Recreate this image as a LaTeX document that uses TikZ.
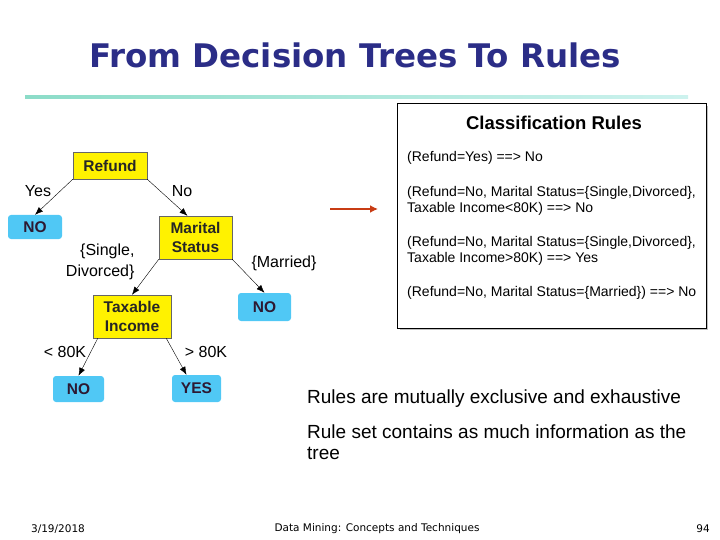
\documentclass[tikz,border=0pt]{standalone}
\usepackage{fontspec}
\setmainfont{Liberation Sans}
\newfontfamily\titlefont{DejaVu Sans}
\newfontfamily\footfont{DejaVu Sans}
\usepackage{tikz}
\usetikzlibrary{arrows.meta}
\definecolor{titleblue}{RGB}{43,45,135}
\definecolor{leafblue}{RGB}{80,200,245}
\definecolor{leaftext}{RGB}{45,25,50}
\definecolor{arrowred}{RGB}{200,60,20}
\definecolor{barleft}{RGB}{140,220,200}
\definecolor{barright}{RGB}{205,242,238}

\begin{document}
\begin{tikzpicture}[x=1pt,y=-1pt,
  attr/.style={draw=black!60,fill=yellow,inner sep=0pt,align=center,text=black!85,
    font=\fontsize{15.5}{19}\selectfont\bfseries},
  leaf/.style={fill=leafblue,rounded corners=3pt,inner sep=0pt,text=leaftext,
    font=\fontsize{15.5}{19}\selectfont\bfseries},
  lbl/.style={font=\fontsize{16}{21}\selectfont},
  rule/.style={anchor=west,align=left,inner sep=0pt,font=\fontsize{14}{16.5}\selectfont},
  edge/.style={-{Latex[length=8pt,width=6pt]},thin}]
  \useasboundingbox (0,0) rectangle (720,540);
  \node[text=titleblue,font=\titlefont\bfseries\fontsize{32.5}{34}\selectfont] (title) at (355,55) {From Decision Trees To Rules};
  \shade[left color=barleft,right color=barright] (25,95.5) rectangle (688,99);

  \node[attr,minimum width=74,minimum height=27] (refund) at (110,165.5) {Refund};
  \node[leaf,minimum width=54,minimum height=24] (noA) at (35,227) {NO};
  \node[attr,minimum width=73,minimum height=43] (marital) at (195.5,237.5) {Marital\\Status};
  \node[attr,minimum width=78,minimum height=43] (taxinc) at (132,316.5) {Taxable\\Income};
  \node[leaf,minimum width=53,minimum height=28] (noB) at (264.5,307) {NO};
  \node[leaf,minimum width=51,minimum height=26] (noC) at (78.5,389) {NO};
  \node[leaf,minimum width=49,minimum height=27] (yes) at (196.5,388.5) {YES};

  \draw[edge] (refund.south west) -- (noA.north);
  \draw[edge] (refund.south east) -- ([xshift=-8pt]marital.north);
  \draw[edge] (marital.south west) -- (taxinc.north);
  \draw[edge] (marital.south east) -- (noB.north);
  \draw[edge] ([xshift=5pt]taxinc.south west) -- (noC.north);
  \draw[edge] ([xshift=-5pt]taxinc.south east) -- ([xshift=-10pt]yes.north);

  \node[lbl] (lyes) at (38,191) {Yes};
  \node[lbl] (lno) at (182,191) {No};
  \node[lbl,align=right,anchor=east] (lsingle) at (138,262) {\{Single,\\Divorced\}};
  \node[lbl] (lmarried) at (284,263) {\{Married\}};
  \node[lbl] (llow) at (65,352) {< 80K};
  \node[lbl] (lhigh) at (206,352) {> 80K};

  \coordinate (arrowstart) at (330,209);
  \coordinate (arrowend) at (378,209);
  \draw[-{Latex[length=8pt,width=8pt]},line width=2.5pt,arrowred] (arrowstart) -- (arrowend);

  \fill[black!25] (400,106) rectangle (708,330);
  \node[draw,fill=white,line width=0.8pt,minimum width=309,minimum height=225] (rules) at (551.5,215.5) {};
  \node[font=\fontsize{18.5}{20}\selectfont\bfseries] (rtitle) at (554,123) {Classification Rules};
  \node[rule] (rA) at (407,158) {(Refund=Yes) ==> No};
  \node[rule] (rB) at (407,201) {(Refund=No, Marital Status=\{Single,Divorced\},\\Taxable Income<80K) ==> No};
  \node[rule] (rC) at (407,251) {(Refund=No, Marital Status=\{Single,Divorced\},\\Taxable Income>80K) ==> Yes};
  \node[rule] (rD) at (407,293) {(Refund=No, Marital Status=\{Married\}) ==> No};

  \node[anchor=west,inner sep=0pt,font=\fontsize{19}{21}\selectfont] (note1) at (307,399) {Rules are mutually exclusive and exhaustive};
  \node[anchor=west,align=left,inner sep=0pt,font=\fontsize{19}{21}\selectfont] (note2) at (307,442.5) {Rule set contains as much information as the\\tree};

  \node[font=\footfont\fontsize{10.5}{12}\selectfont] (date) at (58,529) {3/19/2018};
  \node[font=\footfont\fontsize{10.5}{12}\selectfont] (course) at (377,529) {Data Mining: Concepts and Techniques};
  \node[font=\footfont\fontsize{10.5}{12}\selectfont] (page) at (703,529) {94};
\end{tikzpicture}
\end{document}
